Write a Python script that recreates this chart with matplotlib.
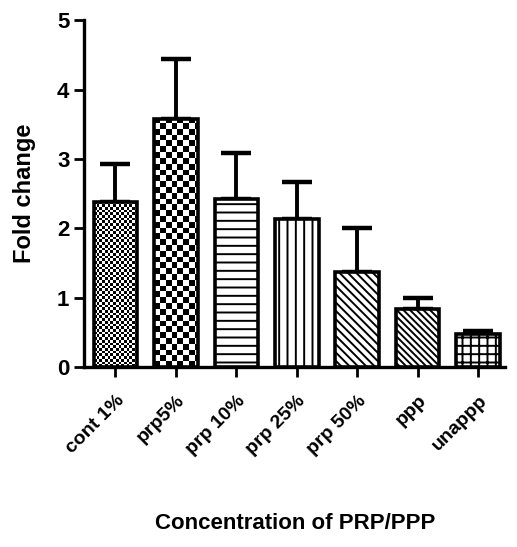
import numpy as np
import matplotlib
matplotlib.use("Agg")
import matplotlib.pyplot as plt

# values
groups = ["cont 1%", "prp5%", "prp 10%", "prp 25%", "prp 50%", "ppp", "unappp"]
means = [2.38, 3.57, 2.42, 2.13, 1.37, 0.84, 0.47]
sems = [0.55, 0.87, 0.66, 0.54, 0.63, 0.16, 0.05]
hatches = [None, None, "--", "||", "\\\\\\\\", "\\\\\\\\\\", "++"]
checker_cells = {0: 2.7, 1: 5.8}   # checker square size in px

plt.rcParams["font.family"] = ["Liberation Sans", "DejaVu Sans"]
plt.rcParams["font.weight"] = "bold"
plt.rcParams["hatch.linewidth"] = 1.4

fig = plt.figure(figsize=(5.17, 5.47), dpi=100)
ax = fig.add_axes([0.1625, 0.329, 0.815, 0.634])
ax.set_xlim(-0.52, 6.45)
ax.set_ylim(0, 5)

x = np.arange(len(groups))
w = 0.72
bars = ax.bar(x, means, width=w, color="white", edgecolor="black",
              linewidth=2.6, zorder=3)
for i, (b, h) in enumerate(zip(bars, hatches)):
    if h:
        b.set_hatch(h)
    if i in checker_cells:
        b.set_facecolor("none")

ax.errorbar(x, means, yerr=[np.zeros(len(sems)), sems], fmt="none",
            ecolor="black", elinewidth=2.8, capsize=11, capthick=3.2, zorder=2)

# checker fills for the first two bars
px_w = ax.bbox.width / (6.45 + 0.52)
px_h = ax.bbox.height / 5.0
for i, cell in checker_cells.items():
    b = bars[i]
    bx, by = b.get_x(), b.get_y()
    bw, bh = b.get_width(), b.get_height()
    nx = int(np.ceil(bw * px_w / cell))
    ny = int(np.ceil(bh * px_h / cell))
    grid = (np.add.outer(np.arange(ny), np.arange(nx)) % 2).astype(float)
    im = ax.imshow(grid, cmap="gray", vmin=0, vmax=1, interpolation="nearest",
                   extent=[bx, bx + nx * cell / px_w, by, by + ny * cell / px_h],
                   aspect="auto", zorder=2.9, origin="lower")
    im.set_clip_path(b)

ax.set_xlim(-0.52, 6.45)
ax.set_ylim(0, 5)

for s in ["top", "right"]:
    ax.spines[s].set_visible(False)
for s in ["left", "bottom"]:
    ax.spines[s].set_linewidth(2.4)

ax.set_yticks([0, 1, 2, 3, 4, 5])
ax.tick_params(axis="both", width=2, length=7, labelsize=16)
ax.tick_params(axis="x", pad=11)
ax.set_xticks(x)
ax.set_xticklabels(groups, rotation=45, ha="right", rotation_mode="anchor",
                   fontsize=14, fontweight="bold")
for t in ax.get_yticklabels():
    t.set_fontweight("bold")

ax.set_ylabel("Fold change", fontsize=17, fontweight="bold", labelpad=15)
fig.text(0.57, 0.043, "Concentration of PRP/PPP", ha="center", va="center",
         fontsize=16, fontweight="bold")

fig.savefig("out.png", dpi=100)
